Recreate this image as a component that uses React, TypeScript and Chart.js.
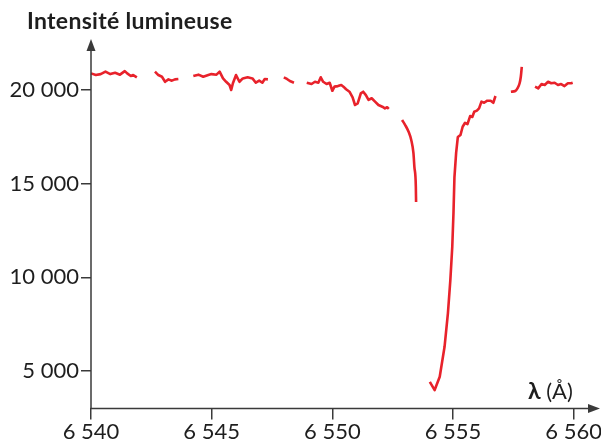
import React, { useEffect, useRef } from "react";
import { Chart, registerables } from "chart.js";

Chart.register(...registerables);

// Axis ticks
const xTicks = [6540, 6545, 6550, 6555, 6560];
const yTicks = [5000, 10000, 15000, 20000];

// Spectrum segments (wavelength in Å, intensity)
const seg1Lambda = [6540.0, 6540.2, 6540.4, 6540.6, 6540.8, 6541.0, 6541.2, 6541.4, 6541.5, 6541.65, 6541.75, 6541.9];
const seg1Intensity = [20890, 20800, 20850, 20980, 20850, 20920, 20820, 21010, 20890, 20750, 20800, 20680];

const seg2Lambda = [6542.65, 6542.79, 6542.94, 6543.07, 6543.21, 6543.35, 6543.48, 6543.62];
const seg2Intensity = [20980, 20800, 20710, 20440, 20570, 20500, 20570, 20590];

const seg3Lambda = [6544.24, 6544.45, 6544.65, 6544.86, 6544.99, 6545.2, 6545.33, 6545.47, 6545.6, 6545.74, 6545.81, 6545.88, 6546.01, 6546.15, 6546.29, 6546.49, 6546.69, 6546.83, 6546.97, 6547.1, 6547.2, 6547.33];
const seg3Intensity = [20750, 20820, 20710, 20800, 20850, 20820, 20980, 20620, 20440, 20270, 20000, 20360, 20800, 20440, 20620, 20680, 20620, 20390, 20500, 20390, 20590, 20570];

const seg4Lambda = [6547.99, 6548.12, 6548.24, 6548.41];
const seg4Intensity = [20680, 20590, 20480, 20390];

const seg5Lambda = [6548.94, 6549.14, 6549.28, 6549.42, 6549.52, 6549.62, 6549.76, 6549.89, 6550.0, 6550.09, 6550.23, 6550.37, 6550.46, 6550.57, 6550.71, 6550.84, 6550.94, 6551.05, 6551.18, 6551.28, 6551.39, 6551.5, 6551.63, 6551.77, 6551.91, 6552.07, 6552.18, 6552.27, 6552.34];
const seg5Intensity = [20390, 20320, 20440, 20390, 20680, 20440, 20320, 20390, 19960, 20180, 20210, 20270, 20180, 20040, 19910, 19610, 19200, 19290, 19820, 19910, 19730, 19470, 19560, 19380, 19200, 19110, 19020, 19080, 18990];

const seg6Lambda = [6552.89, 6553.02, 6553.16, 6553.27, 6553.36, 6553.4, 6553.46, 6553.47];
const seg6Intensity = [18400, 18130, 17770, 17330, 16640, 15900, 14840, 14020];

const seg7Lambda = [6554.04, 6554.24, 6554.45, 6554.65, 6554.79, 6554.89, 6554.97, 6555.02, 6555.06, 6555.13, 6555.2, 6555.31, 6555.4, 6555.5, 6555.6, 6555.71, 6555.8, 6555.88, 6555.99, 6556.08, 6556.18, 6556.29, 6556.42, 6556.56, 6556.67, 6556.76];
const seg7Intensity = [4420, 3980, 4690, 6290, 8090, 9850, 11630, 13430, 15350, 16640, 17490, 17600, 18040, 18250, 18180, 18610, 18560, 18840, 18900, 19020, 19380, 19320, 19430, 19430, 19320, 19680];

const seg8Lambda = [6557.4, 6557.58, 6557.67, 6557.76, 6557.81, 6557.85];
const seg8Intensity = [19910, 19950, 20090, 20360, 20710, 21240];

const seg9Lambda = [6558.4, 6558.53, 6558.67, 6558.8, 6558.94, 6559.07, 6559.21, 6559.35, 6559.48, 6559.62, 6559.76, 6559.89, 6559.96];
const seg9Intensity = [20180, 20090, 20320, 20270, 20440, 20360, 20390, 20270, 20320, 20210, 20360, 20360, 20390];

const segments: [number[], number[], boolean][] = [
  [seg1Lambda, seg1Intensity, false],
  [seg2Lambda, seg2Intensity, false],
  [seg3Lambda, seg3Intensity, false],
  [seg4Lambda, seg4Intensity, false],
  [seg5Lambda, seg5Intensity, false],
  [seg6Lambda, seg6Intensity, true],
  [seg7Lambda, seg7Intensity, false],
  [seg8Lambda, seg8Intensity, true],
  [seg9Lambda, seg9Intensity, false],
];

const RED = "#e8222b";
const AXIS = "#3a3a3a";
const TEXT = "#1e1e1e";
const FONT = "Lato, 'Open Sans', sans-serif";

const fmt = (v: number) =>
  String(Math.round(v)).replace(/\B(?=(\d{3})+(?!\d))/g, " ");

const axesPlugin = {
  id: "axesArrows",
  afterDraw(chart: any) {
    const { ctx, chartArea } = chart;
    const left = chartArea.left;
    const bottom = chartArea.bottom;
    ctx.save();
    ctx.strokeStyle = AXIS;
    ctx.fillStyle = AXIS;
    ctx.lineWidth = 1.5;
    // y axis
    ctx.beginPath();
    ctx.moveTo(left, bottom + 0.5);
    ctx.lineTo(left, 46);
    ctx.stroke();
    ctx.beginPath();
    ctx.moveTo(left, 39);
    ctx.lineTo(left - 4.5, 51);
    ctx.lineTo(left + 4.5, 51);
    ctx.closePath();
    ctx.fill();
    // x axis
    ctx.beginPath();
    ctx.moveTo(left - 0.5, bottom);
    ctx.lineTo(592, bottom);
    ctx.stroke();
    ctx.beginPath();
    ctx.moveTo(600, bottom);
    ctx.lineTo(588, bottom - 4.5);
    ctx.lineTo(588, bottom + 4.5);
    ctx.closePath();
    ctx.fill();
    // titles
    ctx.fillStyle = TEXT;
    ctx.textBaseline = "middle";
    ctx.textAlign = "left";
    ctx.font = `bold 23px ${FONT}`;
    try { (ctx as any).letterSpacing = "0.3px"; } catch (e) {}
    ctx.fillText("Intensité lumineuse", 27, 22);
    try { (ctx as any).letterSpacing = "0px"; } catch (e) {}
    ctx.font = `bold 23px ${FONT}`;
    ctx.fillText("λ", 528, 392);
    const w = ctx.measureText("λ ").width;
    ctx.font = `22px ${FONT}`;
    ctx.fillText("(Å)", 528 + w, 392);
    ctx.restore();
  },
};

export default function App() {
  const ref = useRef<HTMLCanvasElement | null>(null);

  useEffect(() => {
    if (!ref.current) return;
    const datasets = segments.map(([xs, ys, smooth]) => ({
      data: xs.map((x, i) => ({ x, y: ys[i] })),
      borderColor: RED,
      borderWidth: 2.6,
      pointRadius: 0,
      tension: smooth ? 0.4 : 0,
      cubicInterpolationMode: (smooth ? "monotone" : "default") as any,
      borderJoinStyle: "round" as any,
      fill: false,
      clip: false as any,
    }));
    const chart = new Chart(ref.current, {
      type: "line",
      data: { datasets },
      plugins: [axesPlugin],
      options: {
        animation: false,
        responsive: false,
        maintainAspectRatio: false,
        devicePixelRatio: 1,
        layout: { padding: { top: 71.3, right: 20, left: 0, bottom: 0 } },
        plugins: { legend: { display: false }, tooltip: { enabled: false } },
        scales: {
          x: {
            type: "linear",
            min: 6540,
            max: 6560,
            afterBuildTicks: (s: any) => {
              s.ticks = xTicks.map((v) => ({ value: v }));
            },
            afterFit: (s: any) => {
              s.height = 441 - 408.4;
            },
            grid: {
              drawOnChartArea: false,
              drawTicks: true,
              tickLength: 11,
              color: AXIS,
              lineWidth: 1.5,
            },
            border: { display: false },
            ticks: {
              padding: -1,
              color: TEXT,
              font: { family: FONT, size: 22 },
              maxRotation: 0,
              callback: (v: any) => fmt(Number(v)),
            },
          },
          y: {
            type: "linear",
            min: 3000,
            max: 21000,
            afterBuildTicks: (s: any) => {
              s.ticks = yTicks.map((v) => ({ value: v }));
            },
            afterFit: (s: any) => {
              s.width = 91;
            },
            grid: {
              drawOnChartArea: false,
              drawTicks: true,
              tickLength: 10,
              color: AXIS,
              lineWidth: 1.5,
            },
            border: { display: false },
            ticks: {
              padding: 2,
              color: TEXT,
              font: { family: FONT, size: 22 },
              callback: (v: any) => fmt(Number(v)),
            },
          },
        },
      },
    });
    return () => chart.destroy();
  }, []);

  return (
    <div style={{ position: "fixed", left: 0, top: 0, width: 601, height: 441, background: "#fff" }}>
      <canvas ref={ref} width={601} height={441} style={{ width: 601, height: 441 }} />
    </div>
  );
}
